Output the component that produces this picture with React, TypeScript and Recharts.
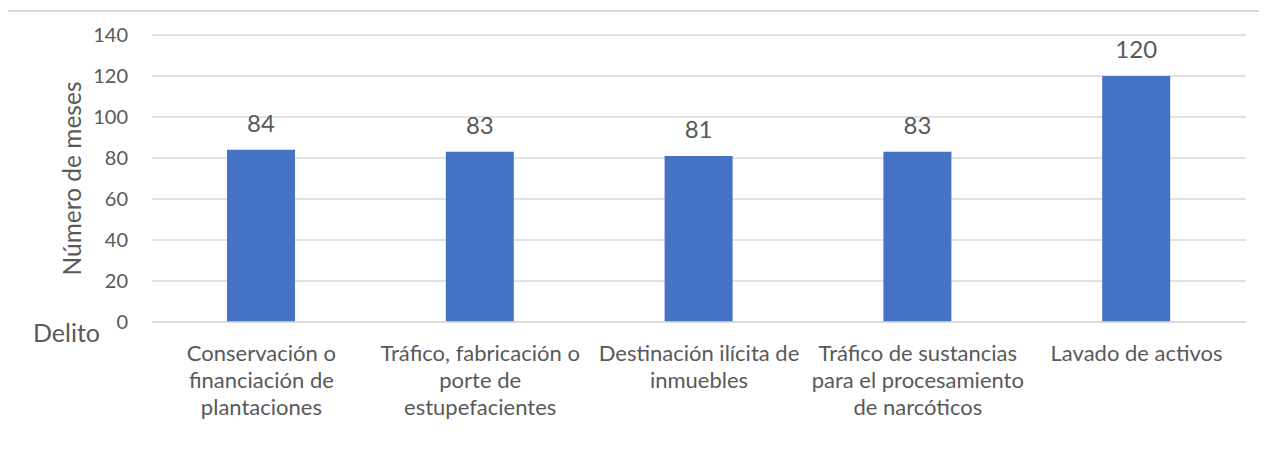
import React from "react";
import {
  Bar,
  BarChart,
  CartesianGrid,
  LabelList,
  XAxis,
  YAxis,
} from "recharts";

// Categories keep Excel's own line breaks
const categories = [
  "Conservación o\nfinanciación de\nplantaciones",
  "Tráfico, fabricación o\nporte de\nestupefacientes",
  "Destinación ilícita de\ninmuebles",
  "Tráfico de sustancias\npara el procesamiento\nde narcóticos",
  "Lavado de activos",
];
const meses = [84, 83, 81, 83, 120];
const yTicks = [0, 20, 40, 60, 80, 100, 120, 140];

const rows = categories.map((delito, i) => ({ delito, meses: meses[i] }));

const FONT = "Lato, 'Open Sans', sans-serif";
const TEXT = "#595959";
const BLUE = "#4472C4";
const GRID = "#d9d9d9";

function CategoryTick(props: any) {
  const { x, y, payload } = props;
  const lines = String(payload.value).split("\n");
  return (
    <text
      x={x}
      y={y}
      textAnchor="middle"
      fill={TEXT}
      fontFamily={FONT}
      fontSize={22}
    >
      {lines.map((line, i) => (
        <tspan key={i} x={x} dy={i === 0 ? 31 : 27}>
          {line}
        </tspan>
      ))}
    </text>
  );
}

function YTitle(props: any) {
  const vb = props.viewBox || { x: 0, y: 0, width: 0, height: 0 };
  const cx = vb.x + 71;
  const cy = vb.y + vb.height / 2;
  return (
    <text
      x={cx}
      y={cy}
      transform={`rotate(-90 ${cx} ${cy})`}
      textAnchor="middle"
      dominantBaseline="central"
      fill={TEXT}
      fontFamily={FONT}
      fontSize={24.5}
    >
      Número de meses
    </text>
  );
}

export default function App() {
  return (
    <div
      style={{
        position: "relative",
        width: 1267,
        height: 456,
        margin: -8,
        overflow: "hidden",
        background: "#fff",
        fontFamily: FONT,
      }}
    >
      {/* chart area frame, runs off the right and bottom edges */}
      <div
        style={{
          position: "absolute",
          left: 3,
          top: 10,
          width: 1290,
          height: 480,
          border: `2px solid ${GRID}`,
          boxSizing: "border-box",
        }}
      />
      <div style={{ position: "absolute", left: 0, top: 0 }}>
        <BarChart
          width={1267}
          height={456}
          data={rows}
          margin={{ top: 35, right: 21, left: 0, bottom: 0 }}
        >
          <CartesianGrid vertical={false} stroke={GRID} strokeWidth={1.5} />
          <XAxis
            dataKey="delito"
            height={134}
            interval={0}
            axisLine={{ stroke: GRID, strokeWidth: 1.5 }}
            tickLine={false}
            tick={<CategoryTick />}
          />
          <YAxis
            width={152}
            domain={[0, 140]}
            ticks={yTicks}
            axisLine={false}
            tickLine={false}
            tickSize={0}
            tickMargin={24}
            tick={{ fill: TEXT, fontSize: 20, fontFamily: FONT }}
            label={{ content: <YTitle /> }}
          />
          <Bar dataKey="meses" fill={BLUE} barSize={68} isAnimationActive={false}>
            <LabelList
              dataKey="meses"
              position="top"
              offset={18}
              fill={TEXT}
              fontSize={24}
              fontFamily={FONT}
            />
          </Bar>
        </BarChart>
      </div>
      <span
        style={{
          position: "absolute",
          left: 33,
          top: 317,
          fontSize: 25,
          lineHeight: "30px",
          color: TEXT,
        }}
      >
        Delito
      </span>
    </div>
  );
}
